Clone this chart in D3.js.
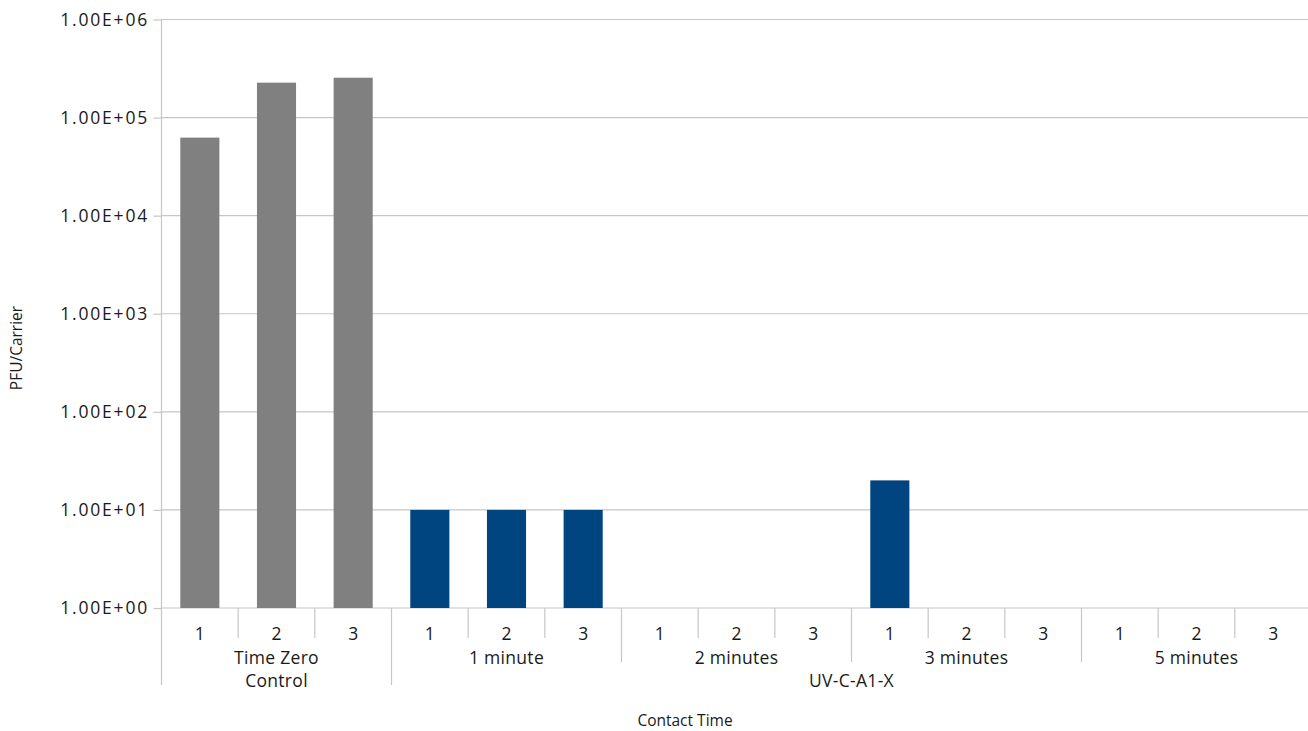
<!DOCTYPE html>
<html><head><meta charset="utf-8">
<script src="https://cdn.jsdelivr.net/npm/d3@7/dist/d3.min.js"></script>
<style>body{margin:0;background:#fff}svg{display:block}text{font-family:"Open Sans","DejaVu Sans",sans-serif;fill:#1a1a1a}</style>
</head><body><svg id="c" width="1308" height="731"></svg>
<script>
// ---- data ----
const replicates = ["1","2","3","1","2","3","1","2","3","1","2","3","1","2","3"];
const subGroups = ["Time Zero\nControl","1 minute","2 minutes","3 minutes","5 minutes"];
const topGroups = ["", "UV-C-A1-X"];
const topGroupSpans = [1, 4]; // number of subgroups per top group
const values = [62500, 227000, 255000, 10, 10, 10, null, null, null, 20, null, null, null, null, null];
const colors = ["#808080","#808080","#808080","#00457f","#00457f","#00457f","#00457f","#00457f","#00457f","#00457f","#00457f","#00457f","#00457f","#00457f","#00457f"];
const yTicks = [1, 10, 100, 1000, 10000, 100000, 1000000];

const svg = d3.select("#c");
const pLeft = 161.5, pRight = 1311.5, pTop = 19.5, pBottom = 608;
const grid = "#c6c6c6";
const FS = 17.5;

const x = d3.scaleBand().domain(d3.range(values.length)).range([pLeft, pRight]).paddingInner(0.49).paddingOuter(0.245);
const y = d3.scaleLog().domain([1, 1e6]).range([pBottom, pTop]);
const step = x.step();

// gridlines
svg.append("g").selectAll("line").data(yTicks).join("line")
  .attr("x1", pLeft).attr("x2", pRight).attr("y1", d => y(d)).attr("y2", d => y(d))
  .attr("stroke", grid).attr("stroke-width", 1.2);

// y axis
const fmt = d => { const e = Math.round(Math.log10(d)); return "1.00E+" + String(e).padStart(2, "0"); };
const yAxis = svg.append("g").attr("transform", `translate(${pLeft},0)`)
  .call(d3.axisLeft(y).tickValues(yTicks).tickFormat(fmt).tickSize(8).tickPadding(4.5));
yAxis.select(".domain").remove();
yAxis.selectAll("line").attr("stroke", grid).attr("stroke-width", 1.2);
yAxis.selectAll("text").attr("font-size", FS).style("fill", "#1a1a1a").style("letter-spacing", "1.8px")
  .style("font-family", "'Open Sans', 'DejaVu Sans', sans-serif");

// bars
svg.append("g").selectAll("rect").data(values.map((v, i) => ({v, i})).filter(d => d.v != null && d.v > 1)).join("rect")
  .attr("x", d => x(d.i)).attr("width", x.bandwidth())
  .attr("y", d => y(d.v)).attr("height", d => pBottom - y(d.v))
  .attr("fill", d => colors[d.i]);

// vertical axis line
svg.append("line").attr("x1", pLeft).attr("x2", pLeft).attr("y1", pTop).attr("y2", 685)
  .attr("stroke", grid).attr("stroke-width", 1.2);

// category axis separators
const sepG = svg.append("g");
for (let k = 1; k <= values.length; k++) {
  const xs = pLeft + k * step;
  let y2 = 638;
  if (k % 3 === 0) y2 = 662;
  if (k === 3 || k === 15) y2 = 685;
  sepG.append("line").attr("x1", xs).attr("x2", xs).attr("y1", pBottom).attr("y2", y2)
    .attr("stroke", grid).attr("stroke-width", 1.2);
}

// replicate labels
svg.append("g").selectAll("text").data(replicates).join("text")
  .attr("x", (d, i) => x(i) + x.bandwidth() / 2).attr("y", 640)
  .attr("text-anchor", "middle").attr("font-size", FS).text(d => d);

// subgroup labels
subGroups.forEach((g, j) => {
  const cx = pLeft + (j * 3 + 1.5) * step;
  const lines = g.split("\n");
  lines.forEach((ln, li) => {
    svg.append("text").attr("x", cx).attr("y", 664 + li * 23)
      .attr("text-anchor", "middle").attr("font-size", FS).style("letter-spacing", "0.3px").text(ln);
  });
});

// top group labels
let acc = 0;
topGroups.forEach((g, j) => {
  const start = acc * 3, n = topGroupSpans[j] * 3;
  acc += topGroupSpans[j];
  if (!g) return;
  const cx = pLeft + (start + n / 2) * step;
  svg.append("text").attr("x", cx).attr("y", 687).attr("text-anchor", "middle").attr("font-size", FS).style("letter-spacing", "0.3px").text(g);
});

// axis titles
svg.append("text").attr("x", 685).attr("y", 725.5).attr("text-anchor", "middle").attr("font-size", 15.5).text("Contact Time");
svg.append("text").attr("transform", "translate(22,348) rotate(-90)").attr("text-anchor", "middle").attr("font-size", 15.5).text("PFU/Carrier");
</script></body></html>
